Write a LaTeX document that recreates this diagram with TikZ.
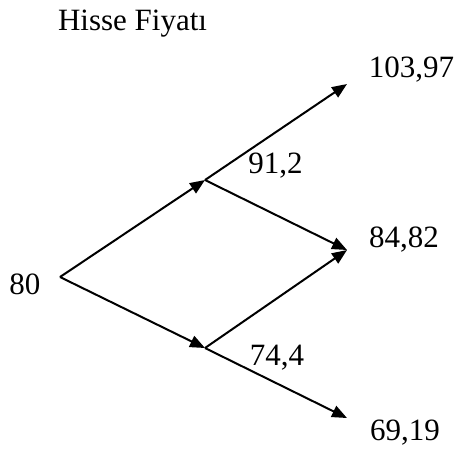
\documentclass[tikz,border=0pt]{standalone}
\usepackage{fontspec}
\setmainfont{Liberation Serif}
\usetikzlibrary{positioning, arrows.meta}

\begin{document}
\begin{tikzpicture}[
  x=0.5pt, y=-0.5pt,
  val/.style={anchor=base, inner sep=0pt, font=\fontsize{15.5}{18}\selectfont},
  arr/.style={-{Triangle[length=7.5pt, width=6pt]}, line width=1pt}
]
  \useasboundingbox (0,0) rectangle (459,452);
  \node[val] (title) at (132.5,30) {Hisse Fiyatı};
  \node[val] (s0) at (25,294) {80};
  \coordinate (root) at (60,277);
  \coordinate (up) at (205,180);
  \coordinate (down) at (205,348);
  \coordinate (uu) at (347,84);
  \coordinate (ud) at (347,250);
  \coordinate (dd) at (347,418);
  \node[val] (su) at (275.5,173) {91,2};
  \node[val] (sd) at (277,365) {74,4};
  \node[val] (suu) at (411.5,77) {103,97};
  \node[val] (sud) at (404,247) {84,82};
  \node[val] (sdd) at (405,440) {69,19};

  \draw[arr] (root) -- (up);
  \draw[arr] (root) -- (down);
  \draw[arr] (up) -- (uu);
  \draw[arr] (up) -- (ud);
  \draw[arr] (down) -- (ud);
  \draw[arr] (down) -- (dd);
\end{tikzpicture}
\end{document}
